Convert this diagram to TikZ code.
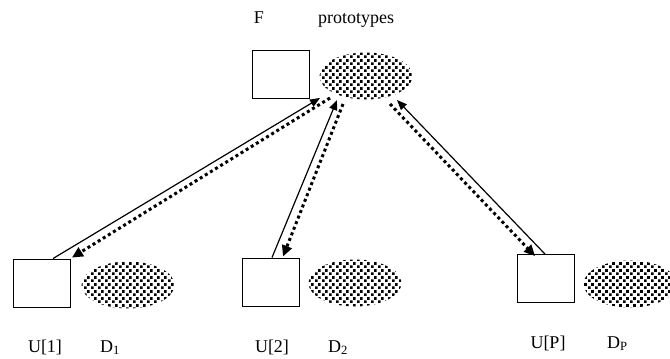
\documentclass[tikz,border=0pt]{standalone}
\usepackage{fontspec}
\setmainfont{Liberation Serif}
\usetikzlibrary{shapes.geometric,patterns,arrows.meta,calc}
\pgfdeclarepatternformonly{protodots}{\pgfpointorigin}{\pgfpoint{7pt}{7pt}}{\pgfpoint{7pt}{7pt}}{
	\pgfpathrectangle{\pgfpointorigin}{\pgfpoint{3pt}{3pt}}
	\pgfpathrectangle{\pgfpoint{3.5pt}{3.5pt}}{\pgfpoint{3pt}{3pt}}
	\pgfusepath{fill}}
\tikzset{
	unit/.style={draw, line width=0.9pt, minimum width=57pt, minimum height=48pt, inner sep=0pt},
	data/.style={ellipse, pattern=protodots, minimum width=93pt, minimum height=47pt, inner sep=0pt},
	lbl/.style={font=\fontsize{18}{20}\selectfont, inner sep=0pt, anchor=base},
	upd/.style={line width=1.2pt, -{Triangle[length=10pt,width=8pt]}},
	sync/.style={line width=3pt, dash pattern=on 3pt off 3pt, -{Triangle[length=11pt,width=10pt]}}
}
\begin{document}
\begin{tikzpicture}[x=1pt,y=-1pt]
			\useasboundingbox (0,0) rectangle (670,359);
			% server
			\node[lbl] (flbl) at (259,23) {F};
			\node[lbl] (plbl) at (356,23) {prototypes};
			\node[unit] (f) at (280.5,74.5) {};
			\node[data] (proto) at (366,76) {};
			% clients
			\node[unit] (u1) at (42,283) {};
			\node[data] (d1) at (128,285) {};
			\node[unit] (u2) at (270.5,282) {};
			\node[data] (d2) at (355,283) {};
			\node[unit] (up) at (546,278.5) {};
			\node[data] (dp) at (630,284) {};
			\node[lbl] (u1lbl) at (45,352) {U[1]};
			\node[lbl,anchor=base west] (d1lbl) at (100,352) {D\textsubscript{1}};
			\node[lbl] (u2lbl) at (272,352) {U[2]};
			\node[lbl,anchor=base west] (d2lbl) at (328,352) {D\textsubscript{2}};
			\node[lbl] (uplbl) at (548,348) {U[P]};
			\node[lbl,anchor=base west] (dplbl) at (607,348) {D\textsubscript{P}};
			% links
			\draw[upd] ($(u1.north)+(11,0)$) -- ($(proto.center)+(-46,22)$);
			\draw[sync] ($(proto.center)+(-36,22)$) -- ($(u1.north east)+(1,-1)$);
			\draw[upd] ($(u2.north)+(1.5,0)$) -- ($(proto.center)+(-29,24)$);
			\draw[sync] ($(proto.center)+(-23,28)$) -- ($(u2.north)+(12.5,-1)$);
			\draw[upd] ($(up.north)+(-1,0)$) -- ($(proto.center)+(31,24)$);
			\draw[sync] ($(proto.center)+(24,28)$) -- ($(up.north)+(-11,2)$);
\end{tikzpicture}
\end{document}
